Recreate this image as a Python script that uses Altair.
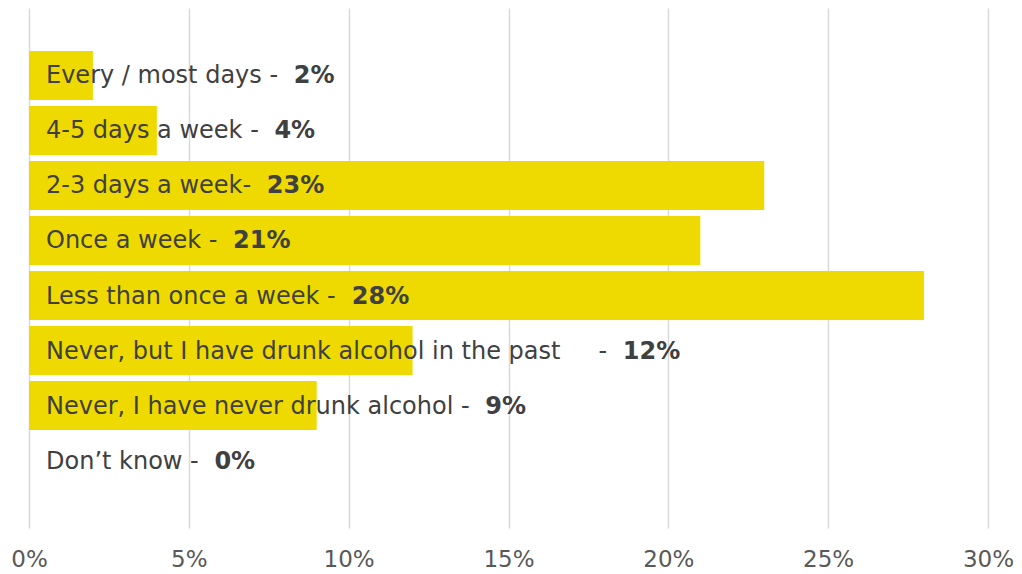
import altair as alt
import pandas as pd

# ---- data ----
categories = [
    "Every / most days",
    "4-5 days a week",
    "2-3 days a week",
    "Once a week",
    "Less than once a week",
    "Never, but I have drunk alcohol in the past",
    "Never, I have never drunk alcohol",
    "Don\u2019t know",
]
values = [2, 4, 23, 21, 28, 12, 9, 0]
label_text = [
    "Every / most days - ",
    "4-5 days a week - ",
    "2-3 days a week- ",
    "Once a week - ",
    "Less than once a week - ",
    "Never, but I have drunk alcohol in the past\u00a0\u00a0\u00a0\u00a0 - ",
    "Never, I have never drunk alcohol - ",
    "Don\u2019t know - ",
]
pct_text = [f"{v}%" for v in values]
tick_values = [0, 5, 10, 15, 20, 25, 30]

FONT = "DejaVu Sans"
LABEL_SIZE = 24
TEXT_COLOR = "#404040"
BAR_COLOR = "#EEDA00"
LABEL_INDENT = 17
BOLD_GAP = 8

# DejaVu Sans advance widths (units per em = 2048), used to place the bold part
_W = {" ": 651, "\u00a0": 651, "%": 1946, "\u2019": 651, ",": 651, "-": 739, ".": 651,
      "/": 690, "D": 1577, "E": 1294, "I": 604, "L": 1141, "N": 1532, "O": 1612,
      "a": 1255, "b": 1300, "c": 1126, "d": 1300, "e": 1260, "f": 721, "g": 1300,
      "h": 1298, "i": 569, "k": 1186, "l": 569, "m": 1995, "n": 1298, "o": 1253,
      "p": 1300, "r": 842, "s": 1067, "t": 803, "u": 1298, "v": 1212, "w": 1675,
      "y": 1212}
for _d in "0123456789":
    _W[_d] = 1303


def text_width(s, size):
    return sum(_W.get(ch, 1200) for ch in s) / 2048.0 * size


df = pd.DataFrame({
    "category": categories,
    "value": values,
    "label": label_text,
    "pct": pct_text,
    "zero": [0] * len(values),
    "off": [text_width(s, LABEL_SIZE) + BOLD_GAP for s in label_text],
})

y_enc = alt.Y(
    "category:N",
    sort=categories,
    axis=None,
    scale=alt.Scale(paddingInner=0.11, paddingOuter=0.78),
)

bars = alt.Chart(df).mark_bar(color=BAR_COLOR).encode(
    x=alt.X(
        "value:Q",
        scale=alt.Scale(domain=[0, 30], nice=False, zero=True),
        axis=alt.Axis(
            values=tick_values,
            labelExpr="datum.value + '%'",
            title=None,
            grid=True,
            gridColor="#d9d9d9",
            gridWidth=1.5,
            domain=False,
            ticks=False,
            labelFlush=False,
            labelOverlap=False,
            labelFont=FONT,
            labelFontSize=23,
            labelColor="#595959",
            labelPadding=20,
        ),
    ),
    y=y_enc,
)

labels = alt.Chart(df).mark_text(
    align="left", baseline="middle", dx=LABEL_INDENT, dy=1,
    font=FONT, fontSize=LABEL_SIZE, color=TEXT_COLOR,
).encode(
    x=alt.X("zero:Q"),
    y=y_enc,
    text="label:N",
)

bold = alt.Chart(df).mark_text(
    align="left", baseline="middle",
    dx=alt.ExprRef(expr=f"{LABEL_INDENT} + datum.off"), dy=1,
    font=FONT, fontSize=LABEL_SIZE, fontWeight="bold", color=TEXT_COLOR,
).encode(
    x=alt.X("zero:Q"),
    y=y_enc,
    text="pct:N",
)

chart = alt.layer(bars, labels, bold).properties(
    width=959,
    height=520,
    autosize=alt.AutoSizeParams(type="none"),
    padding={"left": 21, "right": 26, "top": 0, "bottom": 46},
).configure_view(stroke=None)

chart.save("out.html", embed_options={"renderer": "svg", "actions": False})
